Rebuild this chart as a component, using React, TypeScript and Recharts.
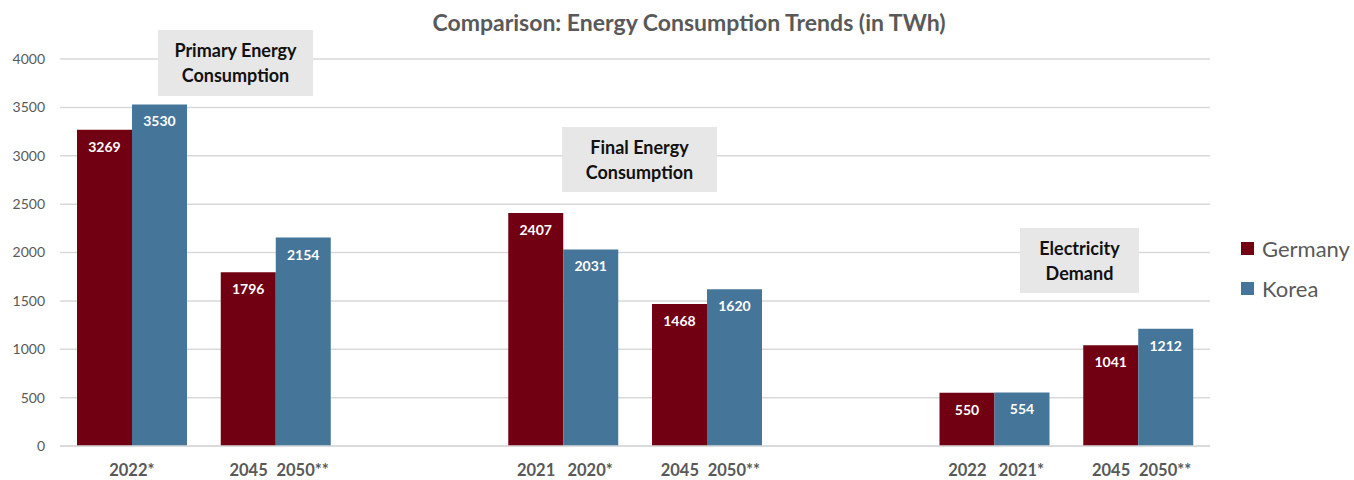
import { BarChart, Bar, XAxis, YAxis, CartesianGrid, LabelList } from 'recharts';

const slots = ['p1', 'p2', 'gap1', 'f1', 'f2', 'gap2', 'e1', 'e2'];
const germany = [3269, 1796, null, 2407, 1468, null, 550, 1041];
const korea = [3530, 2154, null, 2031, 1620, null, 554, 1212];
const germanyYears = ['2022*', '2045', '', '2021', '2045', '', '2022', '2045'];
const koreaYears = ['2022*', '2050**', '', '2020*', '2050**', '', '2021*', '2050**'];
const yTicks = [0, 500, 1000, 1500, 2000, 2500, 3000, 3500, 4000];

const data = slots.map((s, i) => ({
  slot: s,
  germany: germany[i],
  korea: korea[i],
  gYear: germanyYears[i],
  kYear: koreaYears[i],
}));

const FONT = 'Lato, "Open Sans", sans-serif';
const GREY = '#595959';
const RED = '#700012';
const BLUE = '#46759a';

const YearTick = ({ x, y, payload }: any) => {
  const row = data[payload.index];
  if (!row || !row.gYear) return null;
  const common = { fill: GREY, fontSize: 16.5, fontWeight: 700, fontFamily: FONT, textAnchor: 'middle' as const };
  if (row.gYear === row.kYear) {
    return <text x={x} y={y + 22} {...common}>{row.gYear}</text>;
  }
  return (
    <g>
      <text x={x - 27} y={y + 22} {...common}>{row.gYear}</text>
      <text x={x + 27} y={y + 22} {...common}>{row.kYear}</text>
    </g>
  );
};

const legendItems = [['Germany', RED], ['Korea', BLUE]];

const notes = [
  { lines: ['Primary Energy', 'Consumption'], left: 158, top: 30, w: 155, h: 66 },
  { lines: ['Final Energy', 'Consumption'], left: 562, top: 127, w: 155, h: 65 },
  { lines: ['Electricity', 'Demand'], left: 1020, top: 228, w: 119, h: 65 },
];

export default function App() {
  return (
    <div style={{ position: 'absolute', left: 0, top: 0, width: 1354, height: 480, background: '#fff' }}>
      <BarChart
        width={1354}
        height={480}
        data={data}
        margin={{ top: 59, right: 144, left: 0, bottom: 4 }}
        barCategoryGap={17}
        barGap={0}
      >
        <CartesianGrid vertical={false} stroke="#d9d9d9" strokeWidth={1.5} />
        <XAxis dataKey="slot" tick={<YearTick />} tickLine={false} axisLine={{ stroke: '#d9d9d9', strokeWidth: 1.5 }} height={30} interval={0} />
        <YAxis
          width={60}
          domain={[0, 4000]}
          ticks={yTicks}
          tickLine={false}
          axisLine={false}
          tickMargin={9}
          tick={{ fill: GREY, fontSize: 14, fontFamily: FONT }}
        />
        <Bar dataKey="germany" name="Germany" fill={RED} isAnimationActive={false}>
          <LabelList dataKey="germany" position="insideTop" offset={12} fill="#fff" fontSize={14} fontWeight={700} fontFamily={FONT} />
        </Bar>
        <Bar dataKey="korea" name="Korea" fill={BLUE} isAnimationActive={false}>
          <LabelList dataKey="korea" position="insideTop" offset={12} fill="#fff" fontSize={14} fontWeight={700} fontFamily={FONT} />
        </Bar>
      </BarChart>
      <div style={{ position: 'absolute', left: 1241, top: 228, fontFamily: FONT, fontSize: 22, color: GREY }}>
        {legendItems.map(([n, c]) => (
          <div key={n} style={{ display: 'flex', alignItems: 'center', height: 40 }}>
            <span style={{ width: 13, height: 13, background: c, marginRight: 8, display: 'inline-block' }} />
            {n}
          </div>
        ))}
      </div>
      <div
        style={{
          position: 'absolute', top: 8, left: 0, width: 1378, textAlign: 'center',
          fontFamily: FONT, fontSize: 23, fontWeight: 700, color: GREY,
        }}
      >
        Comparison: Energy Consumption Trends (in TWh)
      </div>
      {notes.map((n) => (
        <div
          key={n.lines[0]}
          style={{
            position: 'absolute', left: n.left, top: n.top, width: n.w, height: n.h,
            background: '#e7e7e7', display: 'flex', flexDirection: 'column',
            justifyContent: 'center', alignItems: 'center',
            fontFamily: FONT, fontSize: 18, fontWeight: 700, color: '#111', lineHeight: '25px',
          }}
        >
          {n.lines.map((l) => <div key={l}>{l}</div>)}
        </div>
      ))}
    </div>
  );
}
